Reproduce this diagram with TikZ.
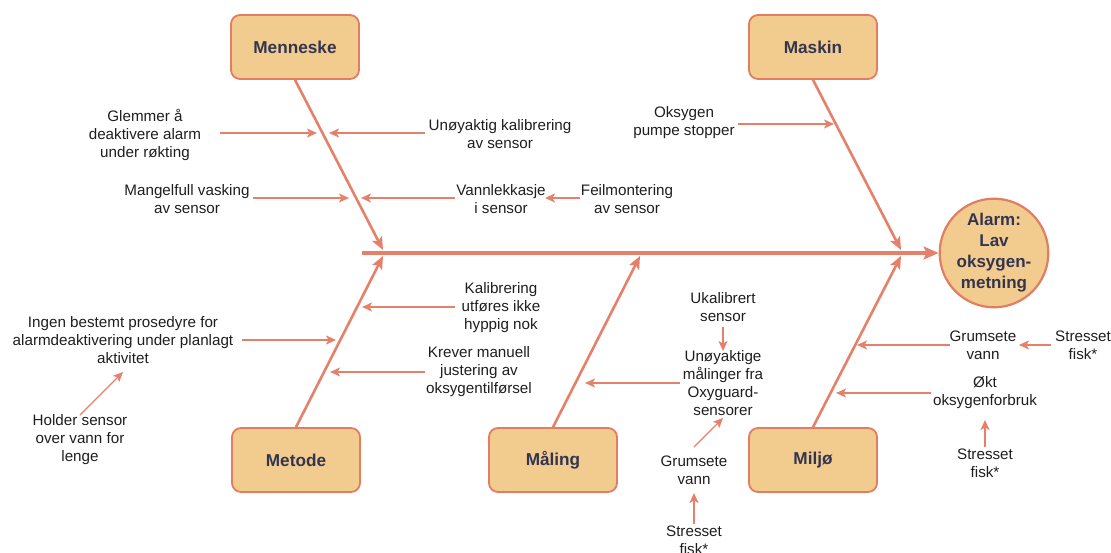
\documentclass[tikz,border=0pt]{standalone}
\usepackage{fontspec}
\setmainfont{Liberation Sans}
\usetikzlibrary{arrows.meta}
\definecolor{coral}{HTML}{E5806A}
\definecolor{boxfill}{HTML}{F2CB8F}
\definecolor{boxline}{HTML}{E27D62}
\definecolor{navy}{HTML}{33354F}
\definecolor{txt}{HTML}{1E1E1E}
\tikzset{
  cat/.style={draw=boxline, line width=1.8pt, fill=boxfill, rounded corners=9pt,
    minimum width=128pt, minimum height=64pt, font=\fontsize{17.2}{20}\selectfont\bfseries, text=navy},
  goal/.style={circle, draw=boxline, line width=2.2pt, fill=boxfill, minimum size=101pt, inner sep=0pt,
    align=center, font=\fontsize{17}{21}\selectfont\bfseries, text=navy},
  lbl/.style={align=center, font=\fontsize{15.2}{18}\selectfont, text=txt, inner sep=0pt},
  bone/.style={draw=coral, line width=2.6pt, -{Stealth[length=13pt,width=11pt,inset=3pt]}},
  spine/.style={draw=coral, line width=3.6pt, -{Stealth[length=15pt,width=13pt,inset=3pt]}},
  arr/.style={draw=coral, line width=1.4pt, -{Stealth[length=10pt,width=9pt,inset=2.5pt]}},
}
\begin{document}
\begin{tikzpicture}[x=1pt,y=-1pt]
\useasboundingbox (0,0) rectangle (1111,553);
% category boxes
\node[cat] (menn) at (295,47) {Menneske};
\node[cat] (mask) at (813,47) {Maskin};
\node[cat] (meto) at (296,460) {Metode};
\node[cat] (mali) at (553,460) {Måling};
\node[cat] (milj) at (813,460) {Miljø};
\node[goal] (alarm) at (994,253) {Alarm:\\Lav\\oksygen-\\metning};
% spine
\coordinate (sp0) at (362,253);
\draw[spine] (sp0) -- (alarm.west);
% bone ends
\coordinate (mennE) at (383,250);
\coordinate (maskE) at (901,250);
\coordinate (metoE) at (383,256);
\coordinate (maliE) at (640,256);
\coordinate (miljE) at (901,256);
\draw[bone] (menn.south) -- (mennE);
\draw[bone] (mask.south) -- (maskE);
\draw[bone] (meto.north) -- (metoE);
\draw[bone] (mali.north) -- (maliE);
\draw[bone] (milj.north) -- (miljE);
% Menneske causes
\node[lbl] (glem) at (145,135) {Glemmer å\\deaktivere alarm\\under røkting};
\coordinate (glemS) at (220,133); \coordinate (glemE) at (317,133);
\draw[arr] (glemS) -- (glemE);
\node[lbl] (unkal) at (500,134) {Unøyaktig kalibrering\\av sensor};
\coordinate (unkalS) at (425,133); \coordinate (unkalE) at (329,133);
\draw[arr] (unkalS) -- (unkalE);
\node[lbl] (mang) at (187,199) {Mangelfull vasking\\av sensor};
\coordinate (mangS) at (253,198); \coordinate (mangE) at (349,198);
\draw[arr] (mangS) -- (mangE);
\node[lbl] (vann) at (501,199) {Vannlekkasje\\i sensor};
\coordinate (vannS) at (455,198); \coordinate (vannE) at (361,198);
\draw[arr] (vannS) -- (vannE);
\node[lbl] (feil) at (627,199) {Feilmontering\\av sensor};
\coordinate (feilS) at (580,198); \coordinate (feilE) at (545,198);
\draw[arr] (feilS) -- (feilE);
% Maskin cause
\node[lbl] (pump) at (684,123) {Oksygen\\pumpe stopper};
\coordinate (pumpS) at (738,124); \coordinate (pumpE) at (834,124);
\draw[arr] (pumpS) -- (pumpE);
% Metode causes
\node[lbl] (kalib) at (501,308) {Kalibrering\\utføres ikke\\hyppig nok};
\coordinate (kalibS) at (455,307); \coordinate (kalibE) at (362,307);
\draw[arr] (kalibS) -- (kalibE);
\node[lbl] (ingen) at (123,340) {Ingen bestemt prosedyre for\\alarmdeaktivering under planlagt\\aktivitet};
\coordinate (ingenS) at (242,340); \coordinate (ingenE) at (336,340);
\draw[arr] (ingenS) -- (ingenE);
\node[lbl] (krev) at (479,372) {Krever manuell\\justering av\\oksygentilførsel};
\coordinate (krevS) at (425,372); \coordinate (krevE) at (330,372);
\draw[arr] (krevS) -- (krevE);
\node[lbl] (hold) at (80,440) {Holder sensor\\over vann for\\lenge};
\coordinate (holdS) at (80,415); \coordinate (holdE) at (123,372);
\draw[arr] (holdS) -- (holdE);
% Måling causes
\node[lbl] (ukal) at (723,307) {Ukalibrert\\sensor};
\node[lbl] (unoy) at (723,383) {Unøyaktige\\målinger fra\\Oxyguard-\\sensorer};
\coordinate (ukalS) at (723,327); \coordinate (ukalE) at (723,351);
\draw[arr] (ukalS) -- (ukalE);
\coordinate (unoyS) at (680,383); \coordinate (unoyE) at (585,383);
\draw[arr] (unoyS) -- (unoyE);
\node[lbl] (grum1) at (694,470) {Grumsete\\vann};
\coordinate (grum1S) at (694,447); \coordinate (grum1E) at (723,418);
\draw[arr] (grum1S) -- (grum1E);
\node[lbl] (stre1) at (694,540) {Stresset\\fisk*};
\coordinate (stre1S) at (694,524); \coordinate (stre1E) at (694,493);
\draw[arr] (stre1S) -- (stre1E);
% Miljø causes
\node[lbl] (grum2) at (983,345) {Grumsete\\vann};
\coordinate (grum2S) at (950,345); \coordinate (grum2E) at (857,345);
\draw[arr] (grum2S) -- (grum2E);
\node[lbl] (stre2) at (1083,345) {Stresset\\fisk*};
\coordinate (stre2S) at (1051,345); \coordinate (stre2E) at (1019,345);
\draw[arr] (stre2S) -- (stre2E);
\node[lbl] (okt) at (985,393) {Økt\\oksygenforbruk};
\coordinate (oktS) at (931,393); \coordinate (oktE) at (836,393);
\draw[arr] (oktS) -- (oktE);
\node[lbl] (stre3) at (985,463) {Stresset\\fisk*};
\coordinate (stre3S) at (985,447); \coordinate (stre3E) at (985,420);
\draw[arr] (stre3S) -- (stre3E);
\end{tikzpicture}
\end{document}
